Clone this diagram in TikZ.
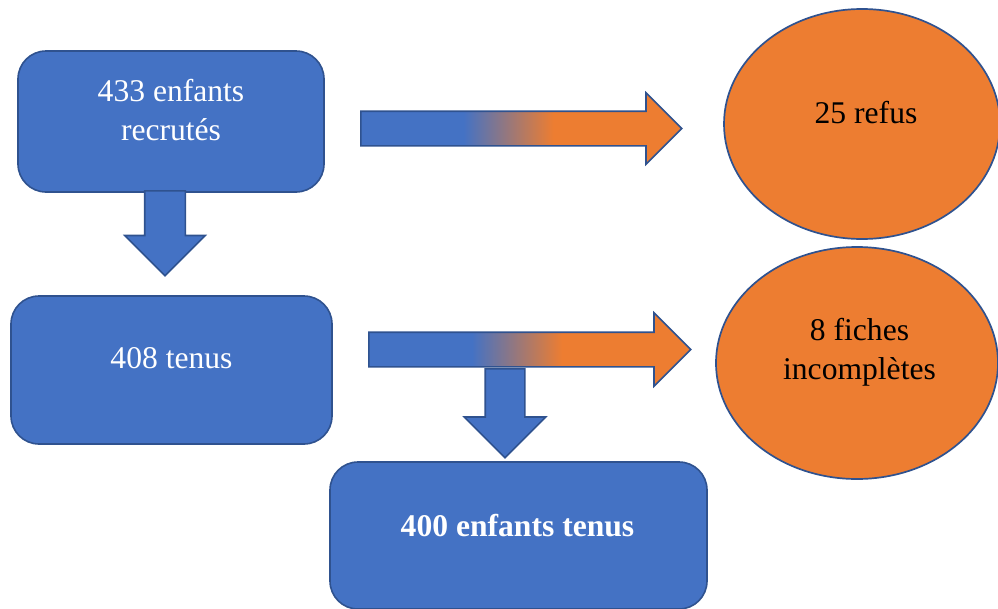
\documentclass[tikz,border=0pt]{standalone}
\usepackage{fontspec}
\setmainfont{Liberation Serif}
\usetikzlibrary{calc,shapes.arrows,shapes.geometric,positioning}
\definecolor{boxblue}{HTML}{4472C4}
\definecolor{edgeblue}{HTML}{2F528F}
\definecolor{fillorange}{HTML}{ED7D31}
\pgfdeclarehorizontalshading{blueorange}{100bp}{color(0bp)=(boxblue); color(41bp)=(boxblue); color(55bp)=(fillorange); color(100bp)=(fillorange)}

\begin{document}
\begin{tikzpicture}[x=1pt,y=-1pt,{box/.style={rectangle,rounded corners=28pt,draw=edgeblue,fill=boxblue,line width=1.6pt,inner sep=0pt}},{oval/.style={ellipse,draw=edgeblue,fill=fillorange,line width=1.7pt,inner sep=0pt}},{flow/.style={single arrow,draw=edgeblue,fill=boxblue,line width=1.6pt,inner xsep=0pt,anchor=tail}},{txt/.style={font=\fontsize{31.6}{39}\selectfont,align=center}}]
	\useasboundingbox (0,0) rectangle (998,608);
	\clip (0,0) rectangle (998,608);
	%%boxes
	\node [box,minimum width=306pt,minimum height=141pt] (recrut) at (171,121.5) {};
	\node [box,minimum width=321pt,minimum height=148pt] (tenus) at (171.5,370) {};
	\node [box,minimum width=377pt,minimum height=147pt] (final) at (518.5,535.5) {};
	%%ovals
	\node [oval,minimum width=276pt,minimum height=230pt] (refus) at (862,124) {};
	\node [oval,minimum width=282pt,minimum height=232pt] (fiches) at (857,363) {};
	%%block arrows
	\node [flow,rotate=-90,minimum height=85pt,minimum width=79pt,inner ysep=19.5pt,single arrow head extend=20pt] (down1) at (165,190) {};
	\node [flow,shading=blueorange,minimum height=321pt,minimum width=70pt,inner ysep=16.5pt,single arrow head extend=18.5pt] (right1) at (360,128.5) {};
	\node [flow,shading=blueorange,minimum height=322pt,minimum width=72pt,inner ysep=16.5pt,single arrow head extend=19.5pt] (right2) at (368,349.5) {};
	\node [flow,rotate=-90,minimum height=89pt,minimum width=80pt,inner ysep=19pt,single arrow head extend=21pt] (down2) at (505,368) {};
	%%texts
	\node [txt,text=white] (t-recrut) at ($(recrut.center)+(0,-11)$) {433 enfants\\recrutés};
	\node [txt,text=white] (t-tenus) at ($(tenus.center)+(0,-12)$) {408 tenus};
	\node [txt,text=white,font=\fontsize{31.6}{39}\selectfont\bfseries] (t-final) at ($(final.center)+(-1,-9.5)$) {400 enfants tenus};
	\node [txt] (t-refus) at ($(refus.center)+(4,-11)$) {25 refus};
	\node [txt] (t-fiches) at ($(fiches.center)+(2.5,-10.5)$) {8 fiches\\incomplètes};
\end{tikzpicture}
\end{document}
